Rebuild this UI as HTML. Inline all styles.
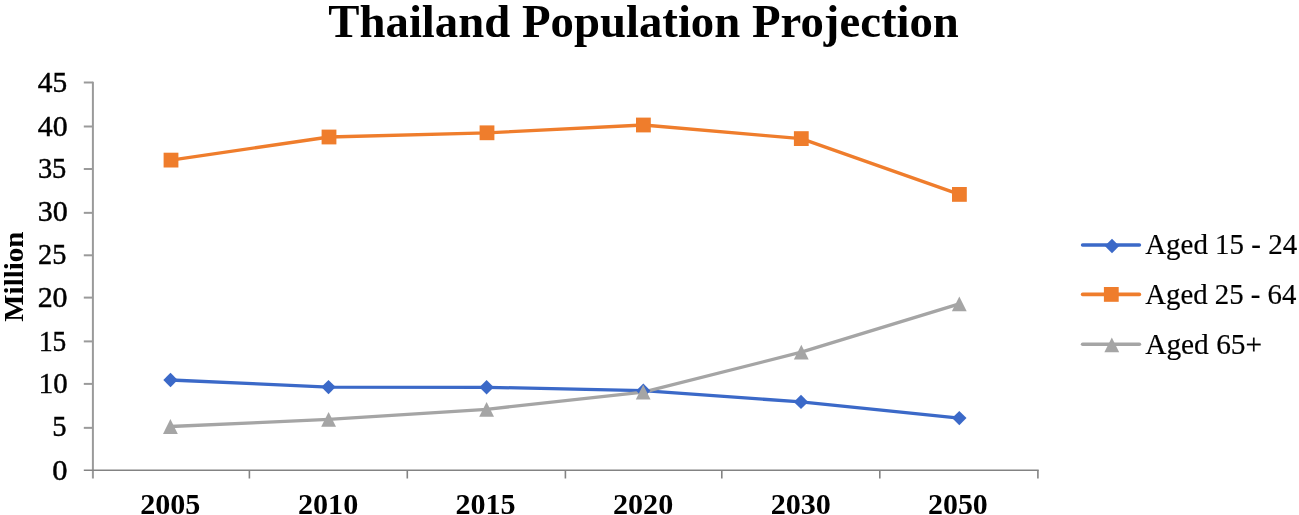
<!DOCTYPE html>
<html><head><meta charset="utf-8"><style>
html,body{margin:0;padding:0;background:#fff;}
body{width:1299px;height:515px;overflow:hidden;font-family:"Liberation Serif",serif;}
svg{display:block;filter:blur(0.35px);}
</style></head><body>
<svg width="1299" height="515" viewBox="0 0 1299 515">
<g stroke="#9A9A9A" stroke-width="2" fill="none">
<line x1="92.9" y1="81.7" x2="92.9" y2="478.5"/>
<line x1="83.8" y1="82.50" x2="92.9" y2="82.50"/>
<line x1="83.8" y1="126.50" x2="92.9" y2="126.50"/>
<line x1="83.8" y1="169.00" x2="92.9" y2="169.00"/>
<line x1="83.8" y1="212.85" x2="92.9" y2="212.85"/>
<line x1="83.8" y1="255.30" x2="92.9" y2="255.30"/>
<line x1="83.8" y1="297.60" x2="92.9" y2="297.60"/>
<line x1="83.8" y1="341.40" x2="92.9" y2="341.40"/>
<line x1="83.8" y1="383.90" x2="92.9" y2="383.90"/>
<line x1="83.8" y1="427.85" x2="92.9" y2="427.85"/>
</g>
<g stroke="#838383" stroke-width="1.6" fill="none">
<line x1="83.8" y1="470.3" x2="1038.7" y2="470.3"/>
<line x1="249.4" y1="470.3" x2="249.4" y2="478.5"/>
<line x1="407.3" y1="470.3" x2="407.3" y2="478.5"/>
<line x1="565.4" y1="470.3" x2="565.4" y2="478.5"/>
<line x1="721.8" y1="470.3" x2="721.8" y2="478.5"/>
<line x1="879.8" y1="470.3" x2="879.8" y2="478.5"/>
<line x1="1037.9" y1="470.3" x2="1037.9" y2="478.5"/>
</g>
<polyline points="170.5,380.0 328.5,387.1 486.6,387.3 643.3,390.7 801.0,401.9 959.3,418.1" fill="none" stroke="#3B69C8" stroke-width="3.3" stroke-linejoin="round" stroke-linecap="round"/>
<polyline points="171.0,160.1 329.0,137.0 487.0,132.8 643.4,125.0 801.3,138.6 959.4,194.4" fill="none" stroke="#EF7D2C" stroke-width="3.3" stroke-linejoin="round" stroke-linecap="round"/>
<polyline points="170.4,426.5 328.6,419.4 486.6,409.3 643.2,392.1 801.3,352.2 959.3,303.9" fill="none" stroke="#A5A5A5" stroke-width="3.3" stroke-linejoin="round" stroke-linecap="round"/>
<path d="M170.5 372.8L177.7 380.0L170.5 387.2L163.3 380.0Z" fill="#3B69C8"/>
<path d="M328.5 379.9L335.7 387.1L328.5 394.3L321.3 387.1Z" fill="#3B69C8"/>
<path d="M486.6 380.1L493.8 387.3L486.6 394.5L479.4 387.3Z" fill="#3B69C8"/>
<path d="M643.3 383.5L650.5 390.7L643.3 397.9L636.1 390.7Z" fill="#3B69C8"/>
<path d="M801.0 394.7L808.2 401.9L801.0 409.1L793.8 401.9Z" fill="#3B69C8"/>
<path d="M959.3 410.9L966.5 418.1L959.3 425.3L952.1 418.1Z" fill="#3B69C8"/>
<rect x="163.6" y="152.7" width="14.8" height="14.8" fill="#EF7D2C"/>
<rect x="321.6" y="129.6" width="14.8" height="14.8" fill="#EF7D2C"/>
<rect x="479.6" y="125.4" width="14.8" height="14.8" fill="#EF7D2C"/>
<rect x="636.0" y="117.6" width="14.8" height="14.8" fill="#EF7D2C"/>
<rect x="793.9" y="131.2" width="14.8" height="14.8" fill="#EF7D2C"/>
<rect x="952.0" y="187.0" width="14.8" height="14.8" fill="#EF7D2C"/>
<path d="M170.4 419.1L177.8 433.9L163.0 433.9Z" fill="#A5A5A5"/>
<path d="M328.6 412.0L336.0 426.8L321.2 426.8Z" fill="#A5A5A5"/>
<path d="M486.6 401.9L494.0 416.7L479.2 416.7Z" fill="#A5A5A5"/>
<path d="M643.2 384.7L650.6 399.5L635.8 399.5Z" fill="#A5A5A5"/>
<path d="M801.3 344.8L808.7 359.6L793.9 359.6Z" fill="#A5A5A5"/>
<path d="M959.3 296.5L966.7 311.3L951.9 311.3Z" fill="#A5A5A5"/>
<g font-family="Liberation Serif" fill="#000">
<text x="37.81" y="92.15" font-size="28.5" textLength="29.36" lengthAdjust="spacingAndGlyphs" stroke="#000" stroke-width="0.45">45</text>
<text x="37.80" y="135.85" font-size="28.5" textLength="29.79" lengthAdjust="spacingAndGlyphs" stroke="#000" stroke-width="0.45">40</text>
<text x="37.88" y="178.20" font-size="28.5" textLength="28.46" lengthAdjust="spacingAndGlyphs" stroke="#000" stroke-width="0.45">35</text>
<text x="37.70" y="220.80" font-size="28.5" textLength="30.00" lengthAdjust="spacingAndGlyphs" stroke="#000" stroke-width="0.45">30</text>
<text x="38.03" y="264.40" font-size="28.5" textLength="28.31" lengthAdjust="spacingAndGlyphs" stroke="#000" stroke-width="0.45">25</text>
<text x="37.65" y="306.80" font-size="28.5" textLength="29.95" lengthAdjust="spacingAndGlyphs" stroke="#000" stroke-width="0.45">20</text>
<text x="38.94" y="350.50" font-size="28.5" textLength="27.36" lengthAdjust="spacingAndGlyphs" stroke="#000" stroke-width="0.45">15</text>
<text x="38.81" y="393.30" font-size="28.5" textLength="28.74" lengthAdjust="spacingAndGlyphs" stroke="#000" stroke-width="0.45">10</text>
<text x="52.29" y="435.70" font-size="28.5" textLength="14.25" lengthAdjust="spacingAndGlyphs" stroke="#000" stroke-width="0.45">5</text>
<text x="52.38" y="479.50" font-size="28.5" textLength="15.24" lengthAdjust="spacingAndGlyphs" stroke="#000" stroke-width="0.45">0</text>
<text x="140.20" y="513.90" font-size="30" font-weight="bold" textLength="60.16" lengthAdjust="spacingAndGlyphs">2005</text>
<text x="298.00" y="513.90" font-size="30" font-weight="bold" textLength="60.21" lengthAdjust="spacingAndGlyphs">2010</text>
<text x="455.40" y="513.90" font-size="30" font-weight="bold" textLength="60.16" lengthAdjust="spacingAndGlyphs">2015</text>
<text x="613.00" y="513.90" font-size="30" font-weight="bold" textLength="60.21" lengthAdjust="spacingAndGlyphs">2020</text>
<text x="770.70" y="513.90" font-size="30" font-weight="bold" textLength="60.21" lengthAdjust="spacingAndGlyphs">2030</text>
<text x="928.00" y="513.90" font-size="30" font-weight="bold" textLength="59.79" lengthAdjust="spacingAndGlyphs">2050</text>
<text x="328.30" y="36.60" font-size="46.8" font-weight="bold" textLength="630.57" lengthAdjust="spacingAndGlyphs">Thailand Population Projection</text>
<g transform="translate(23.3,321.3) rotate(-90)"><text x="-0.43" y="0.00" font-size="27.8" font-weight="bold" textLength="90.11" lengthAdjust="spacingAndGlyphs">Million</text></g>
<text x="1145.21" y="254.40" font-size="28.8" textLength="151.90" lengthAdjust="spacingAndGlyphs" stroke="#000" stroke-width="0.2">Aged 15 - 24</text>
<text x="1145.21" y="304.20" font-size="28.8" textLength="151.19" lengthAdjust="spacingAndGlyphs" stroke="#000" stroke-width="0.2">Aged 25 - 64</text>
<text x="1145.21" y="353.70" font-size="28.8" textLength="116.86" lengthAdjust="spacingAndGlyphs" stroke="#000" stroke-width="0.2">Aged 65+</text>
</g>
<line x1="1082.6" y1="245.0" x2="1139.4" y2="245.0" stroke="#3B69C8" stroke-width="3.6" stroke-linecap="round"/>
<path d="M1112.0 238.8L1119.2 246.0L1112.0 253.2L1104.8 246.0Z" fill="#3B69C8"/>
<line x1="1082.6" y1="294.4" x2="1139.4" y2="294.4" stroke="#EF7D2C" stroke-width="3.6" stroke-linecap="round"/>
<rect x="1103.9" y="287.0" width="14.8" height="14.8" fill="#EF7D2C"/>
<line x1="1082.6" y1="344.3" x2="1139.4" y2="344.3" stroke="#A5A5A5" stroke-width="3.6" stroke-linecap="round"/>
<path d="M1111.8 337.4L1119.2 352.2L1104.4 352.2Z" fill="#A5A5A5"/>
</svg>
</body></html>
